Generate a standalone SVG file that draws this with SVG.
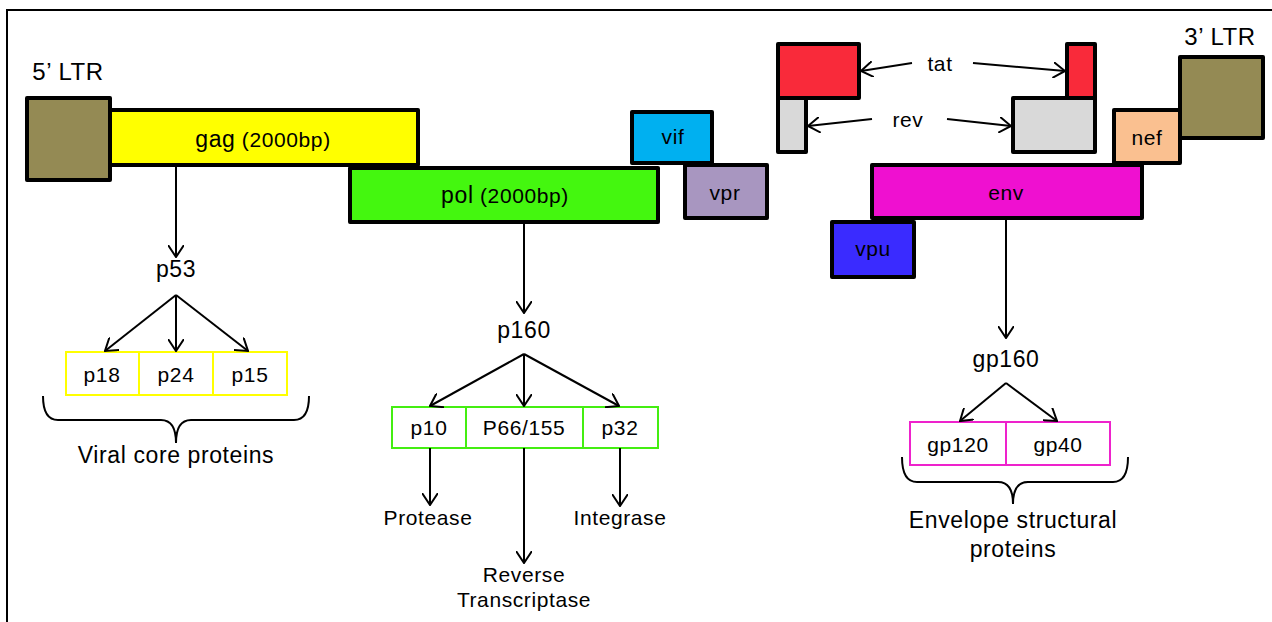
<svg xmlns="http://www.w3.org/2000/svg" width="1272" height="622" viewBox="0 0 1272 622">
<style>
text{font-family:"Liberation Sans",Arial,sans-serif;fill:#000;text-anchor:middle;letter-spacing:0.6px}
.gene{stroke:#000;stroke-width:4;stroke-linejoin:round}
.c{stroke:#000;stroke-width:2;fill:none}
.yb{fill:#fff;stroke:#FFFF00;stroke-width:2}
.gb{fill:#fff;stroke:#44EE11;stroke-width:2}
.mb{fill:#fff;stroke:#EE22CC;stroke-width:2}
.t21{font-size:21px}
.t23{font-size:23px}
</style>
<defs>
<marker id="ah" viewBox="0 0 13 16" refX="12" refY="8" markerWidth="13" markerHeight="16" markerUnits="userSpaceOnUse" orient="auto">
<path d="M0,0 L12,8 L0,16" fill="none" stroke="#000" stroke-width="2"/>
</marker>
</defs>
<rect x="7" y="10" width="1300" height="700" fill="#fff" stroke="#000" stroke-width="2"/>

<g id="ltr5">
<text x="68" y="80" font-size="24">5’ LTR</text>
<rect class="gene" x="27" y="98" width="83" height="82" fill="#948A54"/>
</g>
<g id="gag">
<rect class="gene" x="110" y="110" width="308" height="55" fill="#FFFF00"/>
<text x="263" y="147"><tspan font-size="23">gag</tspan><tspan font-size="21"> (2000bp)</tspan></text>
</g>
<g id="pol">
<rect class="gene" x="350" y="168" width="308" height="54" fill="#44F70F"/>
<text x="505" y="203"><tspan font-size="23">pol</tspan><tspan font-size="21"> (2000bp)</tspan></text>
</g>
<g id="vif">
<rect class="gene" x="632" y="112" width="80" height="51" fill="#00B0F0"/>
<text class="t21" x="673" y="144">vif</text>
</g>
<g id="vpr">
<rect class="gene" x="685" y="165" width="82" height="53" fill="#A896C0"/>
<text class="t21" x="725" y="200">vpr</text>
</g>
<g id="tat">
<rect class="gene" x="778" y="44" width="81" height="54" fill="#F92A3A"/>
<rect class="gene" x="1067" y="44" width="28" height="54" fill="#F92A3A"/>
<text class="t21" x="940" y="71">tat</text>
</g>
<g id="rev">
<rect class="gene" x="778" y="98" width="28" height="54" fill="#D9D9D9"/>
<rect class="gene" x="1013" y="98" width="82" height="54" fill="#D9D9D9"/>
<text class="t21" x="908" y="127">rev</text>
</g>
<g id="nef">
<rect class="gene" x="1114" y="110" width="66" height="53" fill="#FAC090"/>
<text class="t21" x="1147" y="145">nef</text>
</g>
<g id="ltr3">
<text x="1220" y="45" font-size="24">3’ LTR</text>
<rect class="gene" x="1180" y="57" width="83" height="81" fill="#948A54"/>
</g>
<g id="env">
<rect class="gene" x="872" y="165" width="270" height="53" fill="#EF10D0"/>
<text class="t21" x="1006" y="200">env</text>
</g>
<g id="vpu">
<rect class="gene" x="832" y="222" width="82" height="55" fill="#3A2BFF"/>
<text class="t21" x="873" y="256">vpu</text>
</g>

<g id="p53"><text class="t23" x="176" y="277">p53</text></g>
<g id="core">
<rect class="yb" x="66" y="352" width="73" height="43"/>
<rect class="yb" x="139" y="352" width="74" height="43"/>
<rect class="yb" x="213" y="352" width="74" height="43"/>
<text class="t21" x="102" y="382">p18</text>
<text class="t21" x="176" y="382">p24</text>
<text class="t21" x="250" y="382">p15</text>
<path class="c" d="M43,396 Q43,420 58,420 L161,420 Q176,420 176,443 Q176,420 191,420 L294,420 Q309,420 309,396"/>
<text class="t23" x="176" y="463">Viral core proteins</text>
</g>

<g id="p160"><text class="t23" x="524" y="338">p160</text></g>
<g id="polprot">
<rect class="gb" x="392" y="407" width="74" height="41"/>
<rect class="gb" x="466" y="407" width="117" height="41"/>
<rect class="gb" x="583" y="407" width="75" height="41"/>
<text class="t21" x="429" y="435">p10</text>
<text class="t21" x="524" y="435">P66/155</text>
<text class="t21" x="620" y="435">p32</text>
</g>
<g id="protease"><text class="t21" x="428" y="525">Protease</text></g>
<g id="rt"><text class="t21" x="524" y="582">Reverse</text><text class="t21" x="524" y="607">Transcriptase</text></g>
<g id="integrase"><text class="t21" x="620" y="525">Integrase</text></g>

<g id="gp160"><text class="t23" x="1006" y="367">gp160</text></g>
<g id="envprot">
<rect class="mb" x="910" y="422" width="96" height="43"/>
<rect class="mb" x="1006" y="422" width="104" height="43"/>
<text class="t21" x="958" y="452">gp120</text>
<text class="t21" x="1058" y="452">gp40</text>
<path class="c" d="M902,457 Q902,482 917,482 L998,482 Q1013,482 1013,504 Q1013,482 1028,482 L1113,482 Q1128,482 1128,457"/>
<text class="t23" x="1013" y="528">Envelope structural</text>
<text class="t23" x="1013" y="557">proteins</text>
</g>

<g id="connectors" class="c" marker-end="url(#ah)">
<line x1="176" y1="165" x2="176" y2="257"/>
<line x1="176" y1="295" x2="105" y2="351"/>
<line x1="176" y1="295" x2="176" y2="351"/>
<line x1="176" y1="295" x2="248" y2="351"/>
<line x1="524" y1="222" x2="524" y2="313"/>
<line x1="524" y1="354" x2="430" y2="406"/>
<line x1="524" y1="354" x2="524" y2="406"/>
<line x1="524" y1="354" x2="619" y2="406"/>
<line x1="430" y1="448" x2="430" y2="505"/>
<line x1="524" y1="448" x2="524" y2="563"/>
<line x1="620" y1="448" x2="620" y2="506"/>
<line x1="1006" y1="218" x2="1006" y2="338"/>
<line x1="1006" y1="383" x2="960" y2="421"/>
<line x1="1006" y1="383" x2="1057" y2="421"/>
<line x1="912" y1="63" x2="861" y2="71"/>
<line x1="973" y1="63" x2="1065" y2="71"/>
<line x1="872" y1="119" x2="808" y2="126"/>
<line x1="947" y1="119" x2="1011" y2="126"/>
</g>
</svg>
